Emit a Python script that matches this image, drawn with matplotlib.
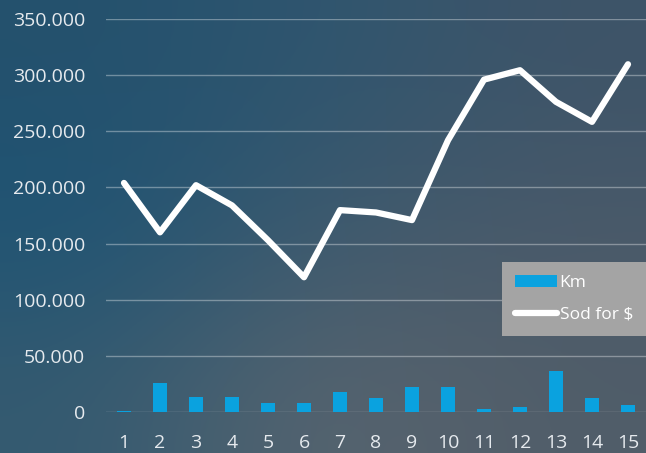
import numpy as np
import matplotlib
matplotlib.use('Agg')
import matplotlib.pyplot as plt
from matplotlib.colors import to_rgb

# values
days = list(range(1, 16))
km = [800, 25500, 13600, 13600, 7700, 7700, 17500, 12200, 22000, 22000,
      2700, 4500, 36200, 12200, 6000]
sod = [204000, 160000, 202000, 184000, 153000, 120000, 179800, 177700,
       170900, 242000, 296000, 304400, 276200, 258400, 309700]
y_ticks = [0, 50000, 100000, 150000, 200000, 250000, 300000, 350000]

plt.rcParams['font.family'] = ['Open Sans', 'DejaVu Sans']
text_col = '#e6eaee'

fig = plt.figure(figsize=(6.46, 4.53), dpi=100)

# background: blue-gray sky
bg_cols = [['#24516d', '#2f5670', '#3e5468'],
           ['#1d5475', '#3e5a6e', '#4a5a6a'],
           ['#345a70', '#5b6670', '#505d69']]
bg = np.array([[to_rgb(c) for c in row] for row in bg_cols])
bg_ax = fig.add_axes([0, 0, 1, 1], zorder=-10)
bg_ax.imshow(bg, extent=[0, 1, 0, 1], aspect='auto', interpolation='bicubic')
bg_ax.axis('off')

ax = fig.add_axes([106 / 646, 1 - 412 / 453, 540 / 646, 393 / 453])
ax.set_facecolor('none')

bars = ax.bar(days, km, width=0.4, color='#0aa2df', zorder=3, label='Km')
line, = ax.plot(days, sod, color='white', lw=4.5, solid_joinstyle='round',
                solid_capstyle='round', zorder=4, label='Sod for $')

ax.set_xlim(0.5, 15.5)
ax.set_ylim(0, 350000)
ax.set_yticks(y_ticks)
ax.set_yticklabels(['0' if v == 0 else '{:,}'.format(v).replace(',', '.') for v in y_ticks])
ax.set_xticks(days)
ax.set_xticklabels([str(d) for d in days])
ax.yaxis.grid(True, color='white', alpha=0.35, lw=1, zorder=1)
ax.set_axisbelow(True)
for s in ax.spines.values():
    s.set_visible(False)
ax.tick_params(axis='both', length=0, labelsize=14, colors=text_col)
ax.tick_params(axis='y', pad=15)
ax.tick_params(axis='x', pad=16)
ax.set_clip_on(False)

leg = fig.legend(handles=[bars, line], loc='upper right',
                 bbox_to_anchor=(1.0, 1 - 262 / 453), borderaxespad=0,
                 fontsize=12.5, frameon=True, fancybox=False,
                 handlelength=2.4, handletextpad=0.15, labelspacing=0.9,
                 borderpad=0.75)
leg.get_frame().set_facecolor('#a4a4a4')
leg.get_frame().set_edgecolor('none')
leg.get_frame().set_alpha(1)
for t in leg.get_texts():
    t.set_color('white')

fig.savefig('out.png', dpi=100)
